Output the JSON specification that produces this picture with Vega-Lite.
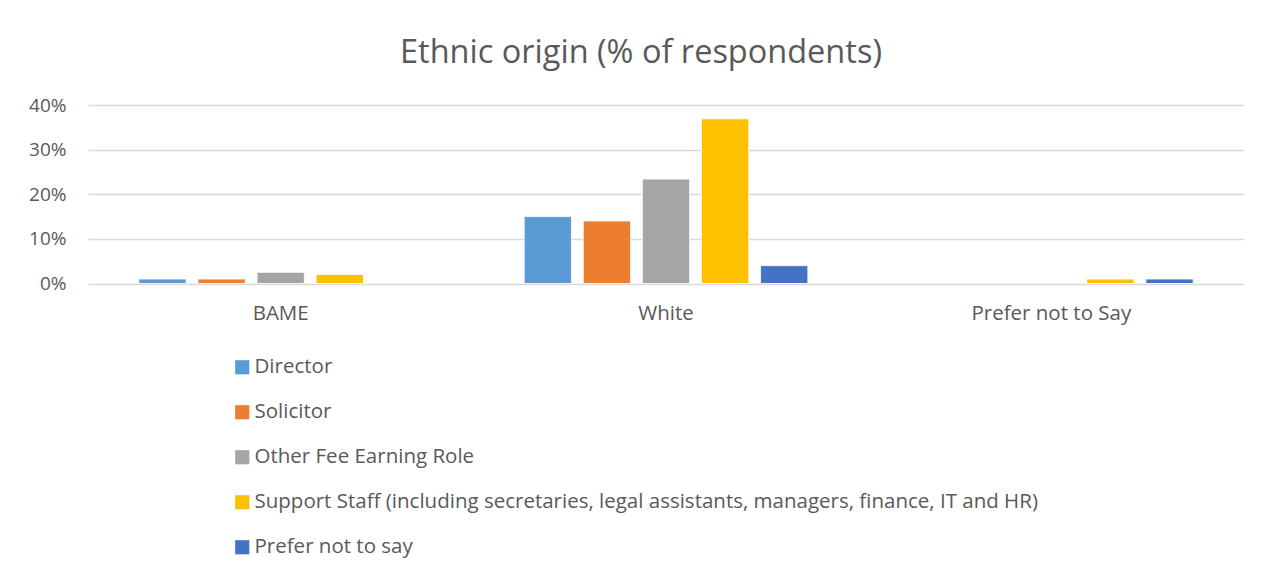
{
  "$schema": "https://vega.github.io/schema/vega-lite/v6.json",
  "width": 1156,
  "height": 178.5,
  "padding": {"left": 28, "top": 36, "right": 10, "bottom": 10},
  "background": "white",
  "title": {
    "text": "Ethnic origin (% of respondents)",
    "fontSize": 32.5,
    "font": "Open Sans",
    "fontWeight": "normal",
    "color": "#595959",
    "anchor": "middle",
    "dx": -25,
    "offset": 27
  },
  "data": {
    "values": [
      {"origin": "BAME", "role": "Director", "pct": 0.01},
      {"origin": "BAME", "role": "Solicitor", "pct": 0.01},
      {"origin": "BAME", "role": "Other Fee Earning Role", "pct": 0.025},
      {"origin": "BAME", "role": "Support Staff (including secretaries, legal assistants, managers, finance, IT and HR)", "pct": 0.02},
      {"origin": "White", "role": "Director", "pct": 0.15},
      {"origin": "White", "role": "Solicitor", "pct": 0.14},
      {"origin": "White", "role": "Other Fee Earning Role", "pct": 0.234},
      {"origin": "White", "role": "Support Staff (including secretaries, legal assistants, managers, finance, IT and HR)", "pct": 0.369},
      {"origin": "White", "role": "Prefer not to say", "pct": 0.04},
      {"origin": "Prefer not to Say", "role": "Support Staff (including secretaries, legal assistants, managers, finance, IT and HR)", "pct": 0.01},
      {"origin": "Prefer not to Say", "role": "Prefer not to say", "pct": 0.01}
    ]
  },
  "mark": {"type": "bar", "stroke": "white", "strokeWidth": 0.8},
  "encoding": {
    "x": {
      "field": "origin",
      "type": "nominal",
      "sort": ["BAME", "White", "Prefer not to Say"],
      "scale": {"padding": 0},
      "axis": {
        "title": null,
        "labelAngle": 0,
        "ticks": false,
        "domain": false,
        "labelFontSize": 20.5,
        "labelFont": "Open Sans",
        "labelColor": "#595959",
        "labelPadding": 20
      }
    },
    "xOffset": {
      "field": "role",
      "type": "nominal",
      "sort": ["Director", "Solicitor", "Other Fee Earning Role", "Support Staff (including secretaries, legal assistants, managers, finance, IT and HR)", "Prefer not to say"],
      "scale": {
        "domain": ["Director", "Solicitor", "Other Fee Earning Role", "Support Staff (including secretaries, legal assistants, managers, finance, IT and HR)", "Prefer not to say"],
        "paddingInner": 0.2,
        "paddingOuter": 0.86
      }
    },
    "y": {
      "field": "pct",
      "type": "quantitative",
      "scale": {"domain": [0, 0.4], "nice": false},
      "axis": {
        "title": null,
        "format": ".0%",
        "values": [0, 0.1, 0.2, 0.3, 0.4],
        "ticks": false,
        "domain": false,
        "labelFontSize": 19,
        "labelFont": "Open Sans",
        "labelColor": "#595959",
        "labelPadding": 22,
        "gridColor": "#d9d9d9",
        "gridWidth": 1.3
      }
    },
    "color": {
      "field": "role",
      "type": "nominal",
      "title": null,
      "scale": {
        "domain": ["Director", "Solicitor", "Other Fee Earning Role", "Support Staff (including secretaries, legal assistants, managers, finance, IT and HR)", "Prefer not to say"],
        "range": ["#5B9BD5", "#ED7D31", "#A5A5A5", "#FFC000", "#4472C4"]
      },
      "legend": {
        "orient": "none",
        "legendX": 144,
        "legendY": 252,
        "direction": "vertical",
        "symbolType": "square",
        "symbolSize": 200,
        "symbolStrokeWidth": 0,
        "labelFontSize": 20.5,
        "labelFont": "Open Sans",
        "labelColor": "#595959",
        "labelLimit": 1000,
        "labelOffset": 2,
        "rowPadding": 24
      }
    }
  },
  "config": {
    "view": {"stroke": null}
  }
}
